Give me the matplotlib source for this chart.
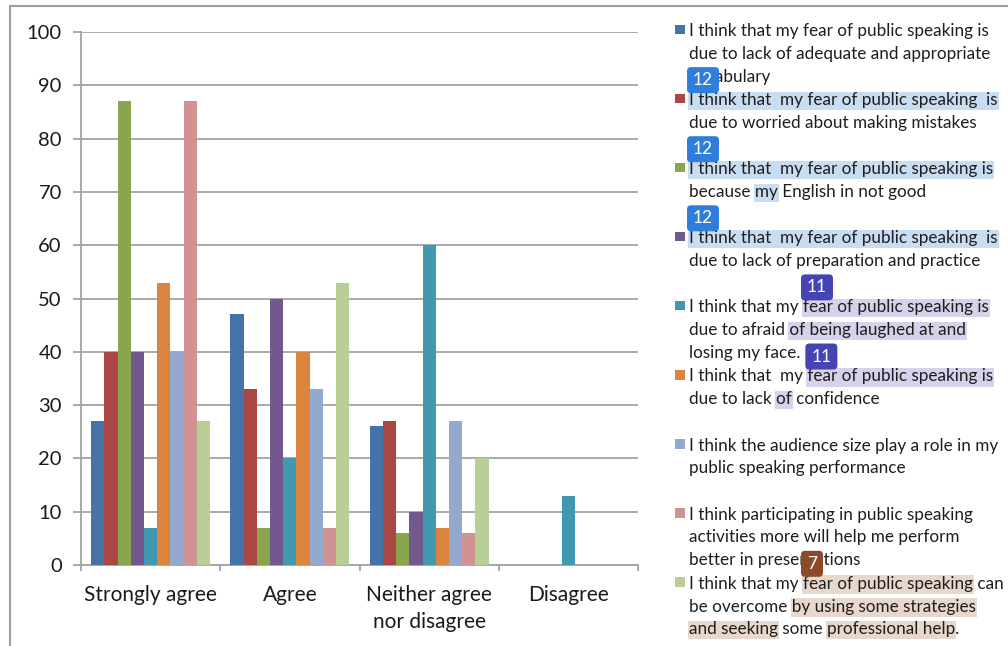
import matplotlib
matplotlib.use("Agg")
import matplotlib.pyplot as plt
from matplotlib.patches import Rectangle, FancyBboxPatch
from matplotlib.transforms import IdentityTransform
from matplotlib.lines import Line2D
import numpy as np

# ---------------- data ----------------
categories = ["Strongly agree", "Agree", "Neither agree\nnor disagree", "Disagree"]

vocabulary   = [27, 47, 26, 0]
mistakes     = [40, 33, 27, 0]
english      = [87, 7, 6, 0]
preparation  = [40, 50, 10, 0]
laughed_at   = [7, 20, 60, 13]
confidence   = [53, 40, 7, 0]
audience     = [40, 33, 27, 0]
participate  = [87, 7, 6, 0]
overcome     = [27, 53, 20, 0]

series = [vocabulary, mistakes, english, preparation, laughed_at,
          confidence, audience, participate, overcome]

series_labels = [
    ["I think that my fear of public speaking is",
     "due to lack of adequate and appropriate",
     "vocabulary"],
    ["I think that  my fear of public speaking  is",
     "due to worried about making mistakes"],
    ["I think that  my fear of public speaking is",
     "because my English in not good"],
    ["I think that  my fear of public speaking  is",
     "due to lack of preparation and practice"],
    ["I think that my fear of public speaking is",
     "due to afraid of being laughed at and",
     "losing my face."],
    ["I think that  my fear of public speaking is",
     "due to lack of confidence"],
    ["I think the audience size play a role in my",
     "public speaking performance"],
    ["I think participating in public speaking",
     "activities more will help me perform",
     "better in presentations"],
    ["I think that my fear of public speaking can",
     "be overcome by using some strategies",
     "and seeking some professional help."],
]

colors = ["#4572A7", "#AA4643", "#89A54E", "#71588F", "#4198AF",
          "#DB843D", "#93A9CF", "#D19392", "#B9CD96"]

# reader annotations (highlights and comment badges) seen on the picture
HL_BLUE, HL_PURPLE, HL_TAN = "#C9DDF2", "#D6D2EC", "#E8D7CC"
highlights = [  # (entry, line, phrase or None for whole line, colour)
    (1, 0, None, HL_BLUE),
    (2, 0, None, HL_BLUE),
    (2, 1, "my", HL_BLUE),
    (3, 0, None, HL_BLUE),
    (4, 0, "fear of public speaking is", HL_PURPLE),
    (4, 1, "of being laughed at and", HL_PURPLE),
    (5, 0, "fear of public speaking is", HL_PURPLE),
    (5, 1, "of", HL_PURPLE),
    (8, 0, "fear of public speaking", HL_TAN),
    (8, 1, "by using some strategies", HL_TAN),
    (8, 2, "and seeking", HL_TAN),
    (8, 2, "professional help", HL_TAN),
]
badges = [  # (entry, line, anchor phrase or None, label, colour)
    (1, 0, None, "12", "#2F7EDC"),
    (2, 0, None, "12", "#2F7EDC"),
    (3, 0, None, "12", "#2F7EDC"),
    (4, 0, "fear", "11", "#4643B3"),
    (5, 0, "fear", "11", "#4643B3"),
    (8, 0, "fear", "7", "#8C4A2B"),
]

# ---------------- figure ----------------
W, H = 1008, 646
plt.rcParams['font.family'] = ['Lato', 'DejaVu Sans']
fig = plt.figure(figsize=(W / 100, H / 100), dpi=100)
fig.patch.set_facecolor("white")

GRID = "#A3A3A3"
ax = fig.add_axes([81 / W, 1 - 565 / H, (638 - 81) / W, (565 - 32) / H])
n = len(series)
bw = (1 - 2 * 10 / 139) / n
xc = np.arange(len(categories)) + 0.5
for j, (vals, col) in enumerate(zip(series, colors)):
    ax.bar(xc + (j - (n - 1) / 2) * bw, vals, width=bw, color=col,
           linewidth=0, zorder=3)

ax.set_xlim(0, len(categories))
ax.set_ylim(0, 100)
ax.set_yticks(np.arange(0, 101, 10))
ax.yaxis.grid(True, color=GRID, linewidth=1.3)
ax.set_axisbelow(True)
for s in ("top", "right"):
    ax.spines[s].set_visible(False)
for s in ("left", "bottom"):
    ax.spines[s].set_color(GRID)
    ax.spines[s].set_linewidth(1.3)

ax.set_xticks(np.arange(0, len(categories) + 1))
ax.set_xticklabels([])
ax.set_xticks(xc, minor=True)
ax.set_xticklabels(categories, minor=True)
for t in ax.get_xticklabels(minor=True):
    t.set_linespacing(1.45)
ax.tick_params(axis='x', which='major', length=4.5, width=1.3, color=GRID)
ax.tick_params(axis='x', which='minor', length=0, pad=14.5, labelsize=15,
               labelcolor="#1A1A1A")
ax.tick_params(axis='y', length=5.8, width=1.3, color=GRID, pad=8,
               labelsize=14.5, labelcolor="#1A1A1A")

# outer chart frame (left and top edges visible)
fig.add_artist(Line2D([10 / W, 10 / W], [0, 1 - 6 / H], color="#A0A0A0",
                      linewidth=1.5, transform=fig.transFigure))
fig.add_artist(Line2D([10 / W, 1], [1 - 6 / H, 1 - 6 / H], color="#A0A0A0",
                      linewidth=1.5, transform=fig.transFigure))

# ---------------- legend (drawn manually, pixel layout) ----------------
renderer = fig.canvas.get_renderer()
ID = IdentityTransform()


def text_width(s, fs):
    t = fig.text(0, 0, s + "|", fontsize=fs)
    a = t.get_window_extent(renderer).width
    t.remove()
    t = fig.text(0, 0, "|", fontsize=fs)
    b = t.get_window_extent(renderer).width
    t.remove()
    return a - b


LEG_X_TEXT = 689
LEG_X_PATCH = 675
BASE0 = 36
ENTRY_STEP = 69.1
LINE_STEP = 22.8
fs_leg = 10 * 299 / text_width(series_labels[0][0], 10)


def ypx(y_top):
    return H - y_top


def baseline(k, l):
    return BASE0 + ENTRY_STEP * k + LINE_STEP * l


for k, (lines, col) in enumerate(zip(series_labels, colors)):
    b0 = baseline(k, 0)
    fig.add_artist(Rectangle((LEG_X_PATCH, ypx(b0 - 2)), 9.5, 9.5,
                             transform=ID, facecolor=col, edgecolor="none"))
    for l, line in enumerate(lines):
        fig.text(LEG_X_TEXT, ypx(baseline(k, l)), line, fontsize=fs_leg,
                 va='baseline', ha='left', color="#1E1E1E", transform=ID,
                 zorder=5)


def span(k, l, phrase):
    line = series_labels[k][l]
    if phrase is None:
        return LEG_X_TEXT, LEG_X_TEXT + text_width(line, fs_leg)
    i = line.find(phrase)
    x0 = LEG_X_TEXT + text_width(line[:i], fs_leg)
    x1 = LEG_X_TEXT + text_width(line[:i + len(phrase)], fs_leg)
    return x0, x1


for k, l, phrase, col in highlights:
    x0, x1 = span(k, l, phrase)
    b = baseline(k, l)
    fig.add_artist(Rectangle((x0 - 1, ypx(b + 5)), x1 - x0 + 2, 18.5,
                             transform=ID, facecolor=col, edgecolor="none",
                             zorder=1))

for k, l, phrase, lab, col in badges:
    x0, _ = span(k, l, phrase)
    b = baseline(k, l)
    bw_px = 22 if len(lab) == 1 else 32
    bottom = ypx(b - 12)
    fig.add_artist(FancyBboxPatch((x0 - 2, bottom), bw_px, 26,
                                  boxstyle="round,pad=0,rounding_size=4",
                                  transform=ID, facecolor=col,
                                  edgecolor="none", zorder=6))
    fig.text(x0 - 2 + bw_px / 2, bottom + 13, lab, fontsize=12.5,
             color="white", ha='center', va='center', transform=ID,
             zorder=7)

fig.savefig("out.png", dpi=100)
